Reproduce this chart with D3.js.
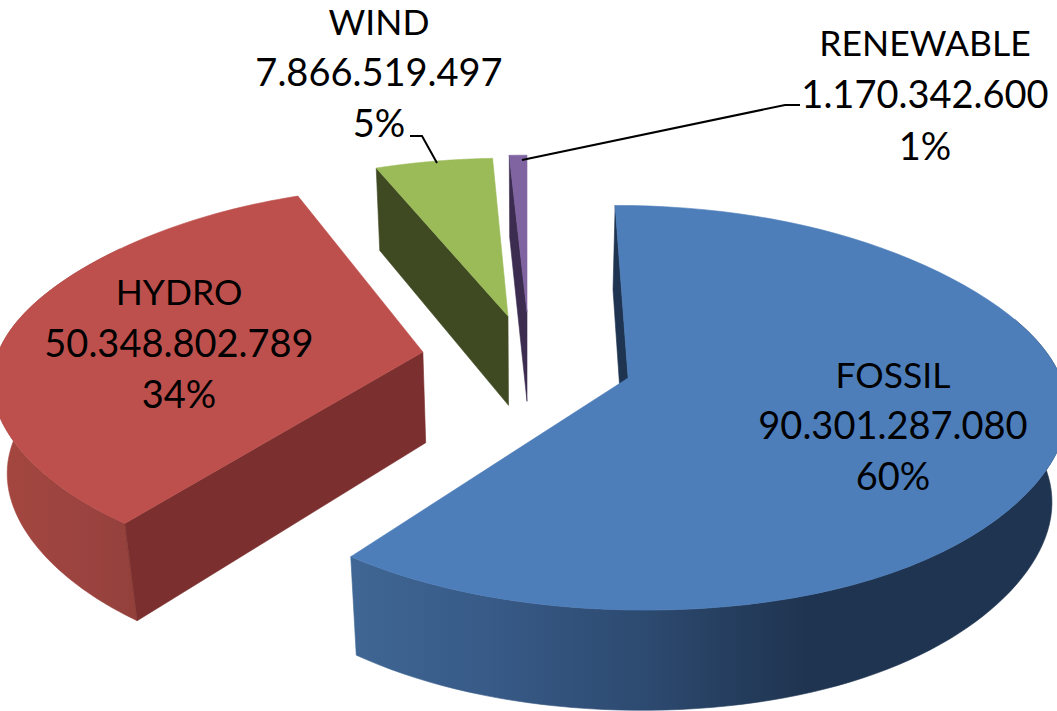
<!DOCTYPE html>
<html>
<head>
<meta charset="utf-8">
<script src="https://cdn.jsdelivr.net/npm/d3@7"></script>
<style>
  html, body { margin: 0; padding: 0; background: #fff; overflow: hidden; }
  text { font-family: Lato, "Open Sans", sans-serif; fill: #000; }
</style>
</head>
<body>
<svg width="1057" height="711"></svg>
<script>
const categories = ['FOSSIL', 'HYDRO', 'WIND', 'RENEWABLE'];
const values = [90301287080, 50348802789, 7866519497, 1170342600];

// layout, separate from the data
const topColors = ['#4d7eba', '#bd504d', '#9bbb59', '#8064a2'];
const cutColors = ['#1e3450', '#7b302f', '#3f4a23', '#3c2d50'];
const explode = [[100, 32], [-105, -24], [-19.7, -105], [0, -114]];
const labelX = [893, 179, 379, 925];
const labelBaseline = [388, 305, 35, 56];
const lineStep = [51, 51.5, 51, 52];

const svg = d3.select('svg');

const locale = d3.formatLocale({ decimal: ',', thousands: '.', grouping: [3], currency: ['', ''] });
const fmt = locale.format(',d');
const total = d3.sum(values);

const pie = d3.pie().sort(null).value(d => d);
const slices = pie(values);
const color = d3.scaleOrdinal().domain(categories).range(topColors);
const cutColor = d3.scaleOrdinal().domain(categories).range(cutColors);

// perspective of the pie plane
const cx = 527, cy = 363, horizon = -966, dist = 2870;
const radius = 428, radiusY = 418, flatten = 0.02;
const nadir = 3700, thick = 0.096;

const project = (angle, r, off) => {
    // the rim is a bit narrower on the diagonals than a true ellipse
    const X = off[0] + r * (1 - flatten * Math.sin(2 * angle) ** 2) * Math.sin(angle);
    const Y = off[1] - r / radius * radiusY * Math.cos(angle);
    const w = 1 - Y / dist;
    return [cx + X / w, horizon + (cy - horizon) / w];
};

// same point on the underside of the pie
const lower = p => {
    const d = thick * (p[1] - horizon) * (nadir - p[1]) / (nadir - horizon);
    return [cx + (p[0] - cx) * (1 - d / (nadir - p[1])), p[1] + d];
};

const arcPoints = (a0, a1, off) => d3.range(0, 81).map(i => project(a0 + (a1 - a0) * i / 80, radius, off));
const line = d3.line();
const closed = pts => line(pts) + 'Z';

const defs = svg.append('defs');
const addGradient = (id, x1, x2, stops) => {
    defs.append('linearGradient')
        .attr('id', id)
        .attr('gradientUnits', 'userSpaceOnUse')
        .attr('x1', x1).attr('x2', x2).attr('y1', 0).attr('y2', 0)
        .selectAll('stop').data(stops)
        .enter().append('stop')
        .attr('offset', d => d[0])
        .attr('stop-color', d => d[1]);
};
addGradient('wall0', 352, 1000, [[0, '#3f6694'], [0.2, '#385b88'], [0.45, '#2d4a70'], [0.7, '#1f3450'], [1, '#1f3450']]);
addGradient('wall1', 10, 135, [[0, '#a3463f'], [0.6, '#9b4340'], [1, '#93403b']]);

const g = svg.append('g');

slices.forEach((s, i) => {
    const off = explode[i];
    const name = categories[i];
    const apex = project(0, 0, off);
    const slice = g.append('g').attr('class', 'slice');

    // outer wall, only for the slices that turn toward the viewer
    if (i < 2) {
        const a0 = i === 0 ? Math.PI * 0.4 : s.startAngle;
        const a1 = i === 0 ? s.endAngle : Math.PI * 1.7;
        const outer = arcPoints(a0, a1, off);
        slice.append('path')
            .attr('d', closed(outer.concat(outer.map(lower).reverse())))
            .attr('fill', `url(#wall${i})`)
            .attr('stroke', `url(#wall${i})`)
            .attr('stroke-width', 0.6);
    }

    // flat cut face along the start edge of the slice
    const rim = project(s.startAngle, radius, off);
    slice.append('path')
        .attr('d', closed([rim, lower(rim), lower(apex), apex]))
        .attr('fill', cutColor(name))
        .attr('stroke', cutColor(name))
        .attr('stroke-width', 0.6);

    // top face
    slice.append('path')
        .attr('d', closed([apex].concat(arcPoints(s.startAngle, s.endAngle, off))))
        .attr('fill', color(name))
        .attr('stroke', color(name))
        .attr('stroke-width', 0.6);
});

// leader lines
const leaders = [
    [[410, 136], [422, 136], [437, 163]],
    [[800, 105], [785, 105], [522, 160]]
];
svg.selectAll('path.leader').data(leaders)
    .enter().append('path')
    .attr('class', 'leader')
    .attr('d', d => line(d))
    .attr('fill', 'none')
    .attr('stroke', '#000')
    .attr('stroke-width', 2);

// labels
const labels = svg.selectAll('g.label').data(categories)
    .enter().append('g')
    .attr('class', 'label')
    .attr('text-anchor', 'middle');

labels.each(function (name, i) {
    const rows = [name, fmt(values[i]), Math.round(values[i] / total * 100) + '%'];
    d3.select(this).selectAll('text').data(rows)
        .enter().append('text')
        .attr('x', labelX[i])
        .attr('y', (d, j) => labelBaseline[i] + j * lineStep[i])
        .attr('font-size', (d, j) => j === 0 ? 35.5 : 38)
        .text(d => d);
});
</script>
</body>
</html>
